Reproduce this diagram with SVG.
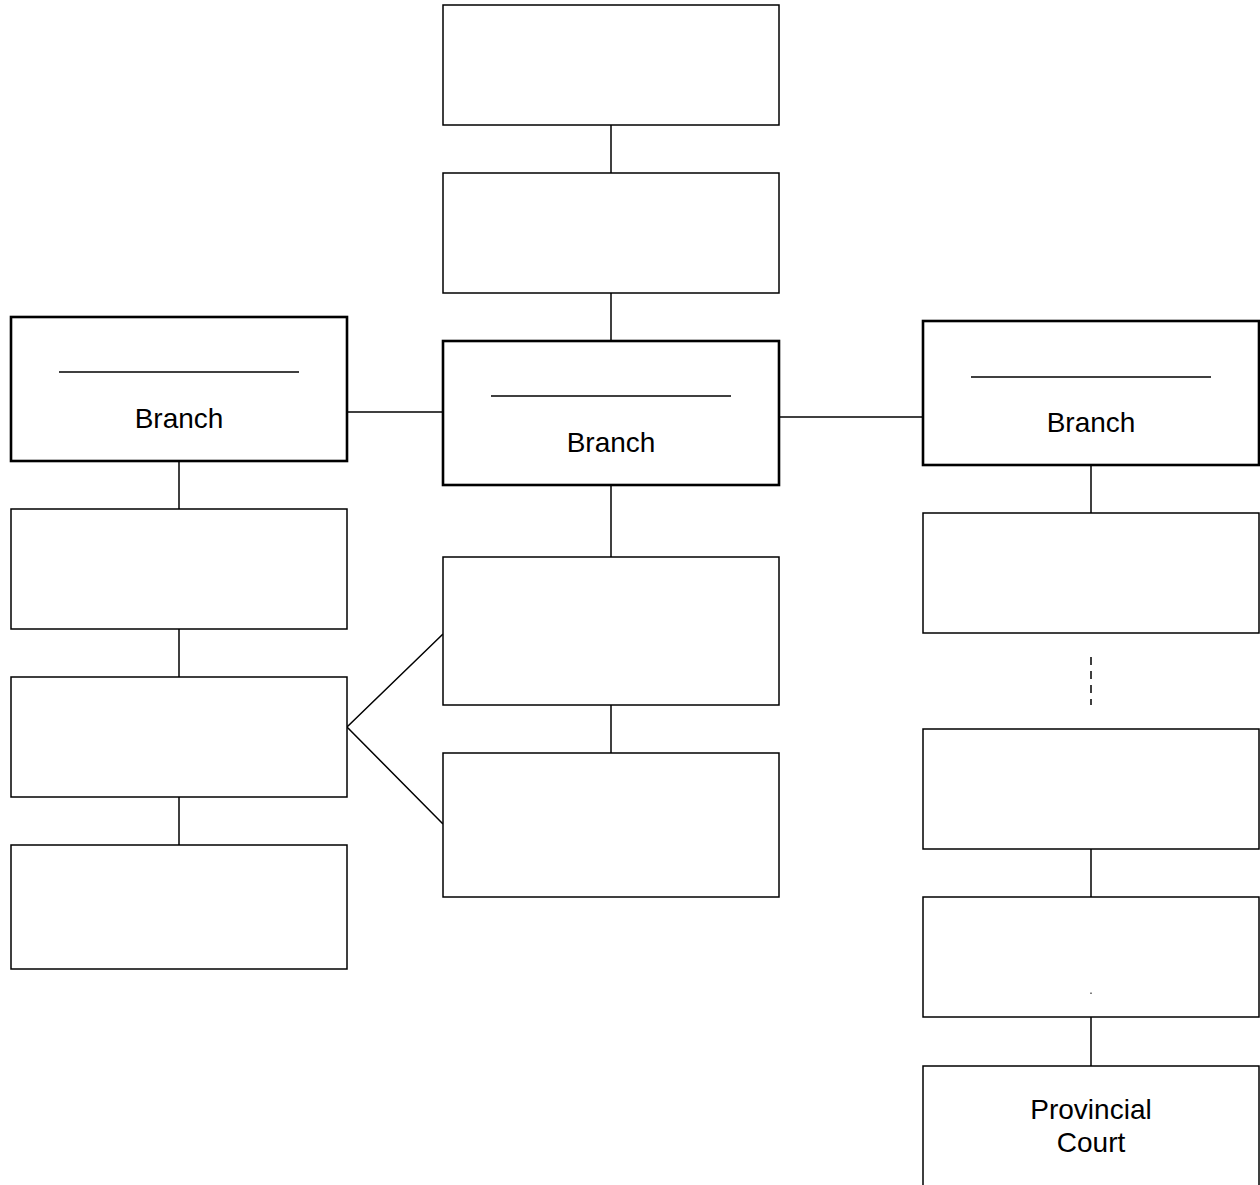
<svg xmlns="http://www.w3.org/2000/svg" width="1260" height="1185" viewBox="0 0 1260 1185">
<style>
rect.n{fill:#fff;stroke:#000;stroke-width:1.5}
rect.br{fill:#fff;stroke:#000;stroke-width:2.6}
line,path{stroke:#000;stroke-width:1.5;fill:none}
text{font-family:"Liberation Sans",Arial,sans-serif;font-size:28px;text-anchor:middle;fill:#000}
</style>
<rect width="1260" height="1185" fill="#fff"/>
<g id="connectors">
<line x1="611" y1="125" x2="611" y2="173"/>
<line x1="611" y1="293" x2="611" y2="341"/>
<line x1="347" y1="412" x2="443" y2="412"/>
<line x1="779" y1="417" x2="923" y2="417"/>
<line x1="611" y1="485" x2="611" y2="557"/>
<line x1="611" y1="705" x2="611" y2="753"/>
<line x1="179" y1="461" x2="179" y2="509"/>
<line x1="179" y1="629" x2="179" y2="677"/>
<line x1="179" y1="797" x2="179" y2="845"/>
<path d="M443 634 L347 727 L443 824"/>
<line x1="1091" y1="465" x2="1091" y2="513"/>
<line x1="1091" y1="657" x2="1091" y2="705" stroke-dasharray="8 6"/>
<line x1="1091" y1="849" x2="1091" y2="897"/>
<line x1="1091" y1="1017" x2="1091" y2="1066"/>
</g>
<g id="top"><rect class="n" x="443" y="5" width="336" height="120"/></g>
<g id="second"><rect class="n" x="443" y="173" width="336" height="120"/></g>
<g id="center-branch"><rect class="br" x="443" y="341" width="336" height="144"/><line x1="491" y1="396" x2="731" y2="396"/><text x="611" y="452">Branch</text></g>
<g id="left-branch"><rect class="br" x="11" y="317" width="336" height="144"/><line x1="59" y1="372" x2="299" y2="372"/><text x="179" y="428">Branch</text></g>
<g id="right-branch"><rect class="br" x="923" y="321" width="336" height="144"/><line x1="971" y1="377" x2="1211" y2="377"/><text x="1091" y="432">Branch</text></g>
<g id="left1"><rect class="n" x="11" y="509" width="336" height="120"/></g>
<g id="left2"><rect class="n" x="11" y="677" width="336" height="120"/></g>
<g id="left3"><rect class="n" x="11" y="845" width="336" height="124"/></g>
<g id="center1"><rect class="n" x="443" y="557" width="336" height="148"/></g>
<g id="center2"><rect class="n" x="443" y="753" width="336" height="144"/></g>
<g id="right1"><rect class="n" x="923" y="513" width="336" height="120"/></g>
<g id="right2"><rect class="n" x="923" y="729" width="336" height="120"/></g>
<g id="right3"><rect class="n" x="923" y="897" width="336" height="120"/><rect x="1090.5" y="992.5" width="1" height="1.5" fill="#000"/></g>
<g id="provincial"><rect class="n" x="923" y="1066" width="336" height="140"/><text x="1091" y="1119">Provincial</text><text x="1091" y="1152">Court</text></g>
</svg>
